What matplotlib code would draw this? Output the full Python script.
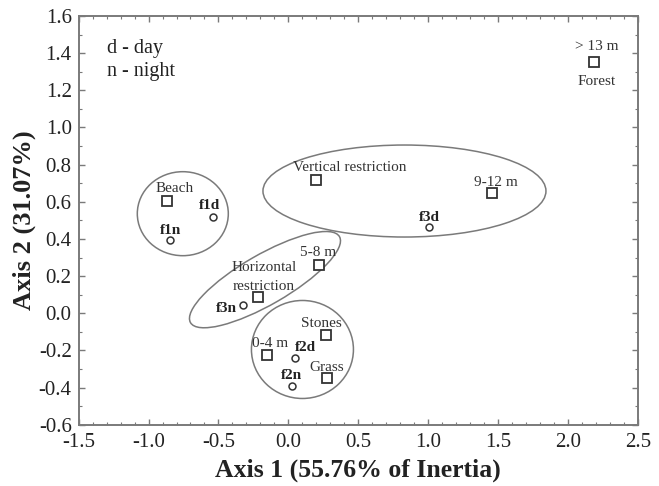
import matplotlib.pyplot as plt
import matplotlib.transforms as transforms
from matplotlib.patches import Ellipse
from matplotlib.ticker import MultipleLocator

plt.rcParams['font.family'] = ['Liberation Serif', 'DejaVu Serif']
plt.rcParams['axes.unicode_minus'] = False

# Habitat / depth categories (squares)
cat_names = ['> 13 m', 'Beach', 'Vertical restriction', '9-12 m', '5-8 m',
             'Horizontal restriction', 'Stones', 'Grass', '0-4 m']
cat_x = [2.19, -0.87, 0.20, 1.46, 0.22, -0.215, 0.267, 0.275, -0.155]
cat_y = [1.35, 0.604, 0.717, 0.649, 0.259, 0.089, -0.117, -0.35, -0.225]

# Fish groups, day / night (circles)
grp_names = ['f1d', 'f1n', 'f2d', 'f2n', 'f3d', 'f3n']
grp_x = [-0.54, -0.847, 0.048, 0.029, 1.009, -0.327]
grp_y = [0.519, 0.394, -0.243, -0.392, 0.462, 0.044]

# Group ellipses: centre (data), width/height (inches), angle
ell_cx = [-0.755, 0.831, -0.167, 0.101]
ell_cy = [0.536, 0.658, 0.181, -0.195]
ell_w = [0.91, 2.83, 1.72, 1.02]
ell_h = [0.84, 0.92, 0.50, 0.98]
ell_ang = [0, 0, 30, 0]

fig = plt.figure(figsize=(6.59, 4.86), dpi=100)
ax = fig.add_axes([0.1194, 0.1261, 0.8483, 0.8409])

gray = '#7a7a7a'
ax.plot(cat_x, cat_y, 's', ms=7.5, mfc='white', mec='#333333', mew=1.3, ls='none', zorder=3)
ax.plot(grp_x, grp_y, 'o', ms=5, mfc='white', mec='#333333', mew=1.1, ls='none', zorder=3)

for cx, cy, w, h, a in zip(ell_cx, ell_cy, ell_w, ell_h, ell_ang):
    tr = fig.dpi_scale_trans + transforms.ScaledTranslation(cx, cy, ax.transData)
    ax.add_patch(Ellipse((0, 0), w, h, angle=a, transform=tr, fill=False,
                         ec=gray, lw=1.1, zorder=2))

# point labels
fs = 11
tc = '#333333'
ax.text(2.207, 1.434, '> 13 m', ha='center', va='center', fontsize=fs, color=tc)
ax.text(2.207, 1.246, 'Forest', ha='center', va='center', fontsize=fs, color=tc)
ax.text(-0.816, 0.672, 'Beach', ha='center', va='center', fontsize=fs, color=tc)
ax.text(0.441, 0.782, 'Vertical restriction', ha='center', va='center', fontsize=fs, color=tc)
ax.text(1.486, 0.702, '9-12 m', ha='center', va='center', fontsize=fs, color=tc)
ax.text(0.215, 0.326, '5-8 m', ha='center', va='center', fontsize=fs, color=tc)
ax.text(-0.174, 0.245, 'Horizontal', ha='center', va='center', fontsize=fs, color=tc)
ax.text(-0.174, 0.146, 'restriction', ha='center', va='center', fontsize=fs, color=tc)
ax.text(0.239, -0.054, 'Stones', ha='center', va='center', fontsize=fs, color=tc)
ax.text(0.275, -0.291, 'Grass', ha='center', va='center', fontsize=fs, color=tc)
ax.text(-0.128, -0.162, '0-4 m', ha='center', va='center', fontsize=fs, color=tc)

grp_lx = [-0.56, -0.842, 0.126, 0.024, 1.009, -0.446]
grp_ly = [0.579, 0.448, -0.186, -0.333, 0.516, 0.026]
for name, lx, ly in zip(grp_names, grp_lx, grp_ly):
    ax.text(lx, ly, name, ha='center', va='center', fontsize=11, weight='bold', color='#222222')

ax.text(-1.30, 1.426, 'd - day', ha='left', va='center', fontsize=14.5, color='#222222')
ax.text(-1.30, 1.300, 'n - night', ha='left', va='center', fontsize=14.5, color='#222222')

ax.set_xlim(-1.5, 2.5)
ax.set_ylim(-0.6, 1.6)
ax.xaxis.set_major_locator(MultipleLocator(0.5))
ax.xaxis.set_minor_locator(MultipleLocator(0.1))
ax.yaxis.set_major_locator(MultipleLocator(0.2))
ax.yaxis.set_minor_locator(MultipleLocator(0.1))
ax.xaxis.set_major_formatter(plt.FuncFormatter(lambda v, p: f'{v:.1f}'))
ax.yaxis.set_major_formatter(plt.FuncFormatter(lambda v, p: f'{v:.1f}'))
ax.tick_params(which='both', direction='in', top=True, right=True, color=gray,
               labelsize=15, labelcolor='#222222')
ax.tick_params(which='major', length=4, width=1)
ax.tick_params(which='minor', length=2, width=0.8)
ax.tick_params(axis='x', which='major', pad=6)
ax.tick_params(axis='y', which='major', pad=5)
for s in ax.spines.values():
    s.set_color(gray)
    s.set_linewidth(1.4)

ax.set_xlabel('Axis 1 (55.76% of Inertia)', fontsize=18.5, weight='bold', color='#222222', labelpad=5)
ax.set_ylabel('Axis 2 (31.07%)', fontsize=19, weight='bold', color='#222222', labelpad=2)

fig.savefig('out.png', dpi=100)
